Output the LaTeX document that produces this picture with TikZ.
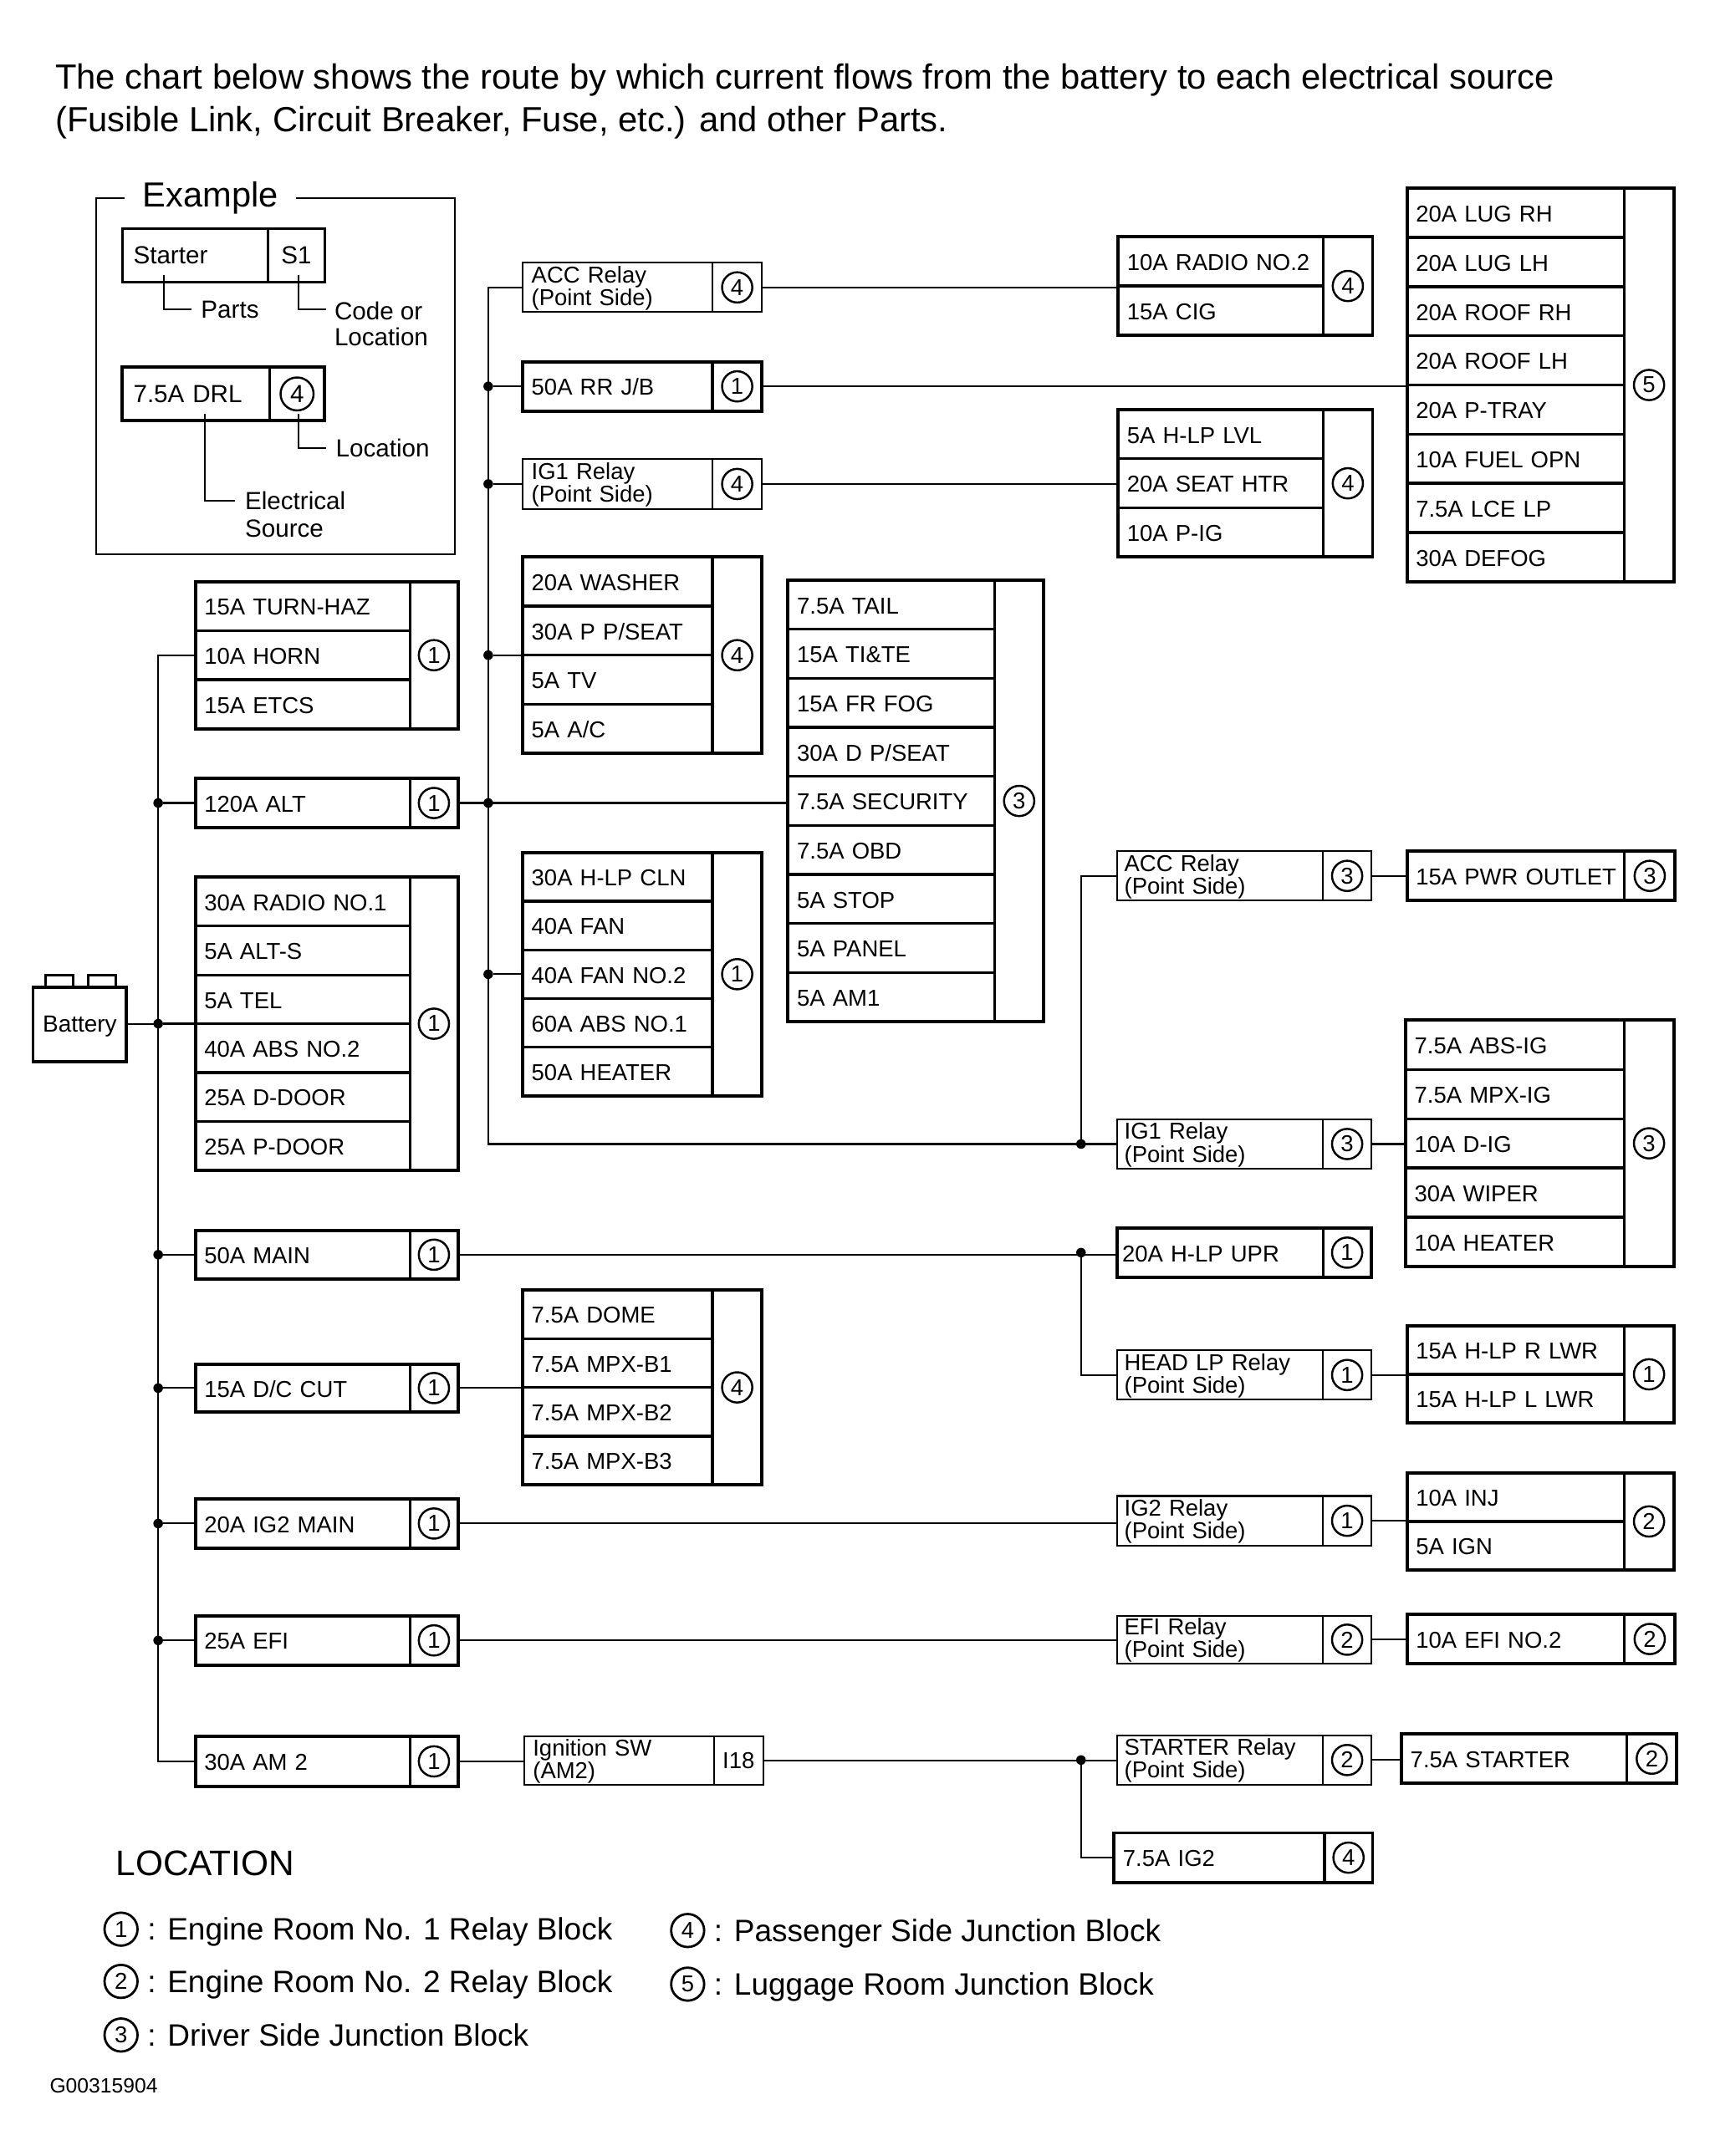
\documentclass[tikz,border=0pt]{standalone}
\usepackage{fontspec}
\setmainfont{Liberation Sans}
\newcommand{\cellfont}{\fontsize{16.7}{16.5}\selectfont}
\newcommand{\examplefont}{\fontsize{18}{15.5}\selectfont}
\newcommand{\legendfont}{\fontsize{22.5}{26}\selectfont}
\tikzset{
	wire/.style={line width=1.3pt},
	outline/.style={draw, rectangle, anchor=north west, outer sep=0pt, inner sep=0pt},
	rowcell/.style={draw, rectangle, anchor=north west, outer sep=0pt, inner ysep=0pt, inner xsep=6.5pt, align=left, font=\cellfont},
	loccell/.style={draw, rectangle, anchor=north west, outer sep=0pt, inner sep=0pt},
	locmark/.style={draw, circle, line width=1.5pt, minimum size=22pt, inner sep=0pt, font=\cellfont},
	legendmark/.style={draw, circle, line width=1.7pt, minimum size=24pt, inner sep=0pt, font=\cellfont},
	jdot/.style={fill, circle, minimum size=7pt, inner sep=0pt, outer sep=0pt},
	note/.style={anchor=west, inner xsep=7pt, inner ysep=0pt, align=left, font=\examplefont},
	thinblock/.style={line width=1.3pt},
	thickblock/.style={line width=2pt, outline/.append style={line width=2.4pt}},
	partblock/.style={line width=1.3pt, locmark/.style={inner sep=0pt, font=\cellfont}},
	exampleblock/.style={rowcell/.append style={font=\examplefont}, locmark/.append style={font=\examplefont, minimum size=24pt}},
}
% name, style, left, top, divider, right, bottom, mark, rows
\newcommand{\fuseblock}[9]{%
	\begin{scope}[#2]
	\pgfmathsetmacro{\bw}{#5-#3}
	\pgfmathsetmacro{\lw}{#6-#5}
	\pgfmathsetmacro{\bh}{#7-#4}
	\foreach \celltxt [count=\rowno] in {#9} {\xdef\nrows{\rowno}}
	\pgfmathsetmacro{\rowh}{\bh/\nrows}
	\foreach \celltxt [count=\rowno] in {#9}
	{
		\pgfmathsetmacro{\rowy}{#4+(\rowno-1)*\rowh}
		\node[rowcell, text width=\bw pt-13pt, minimum height=\rowh pt] (#1-\rowno) at (#3,\rowy) {\rule{0pt}{13.2pt}\celltxt};
	};
	\node[loccell, minimum width=\lw pt, minimum height=\bh pt] (#1-loc) at (#5,#4) {};
	\node[locmark] (#1-mark) at (#1-loc.center) {#8};
	\node[outline, minimum width=\bw pt+\lw pt, minimum height=\bh pt] (#1) at (#3,#4) {};
	\end{scope}
}
\begin{document}
\begin{tikzpicture}[x=1pt,y=-1pt]
	\useasboundingbox (0,0) rectangle (1243,1568);

	\node[anchor=north west, inner sep=0pt, align=left, font=\fontsize{25.4}{31}\selectfont] (title) at (40,46)
		{The chart below shows the route by which current flows from the battery to each electrical source\\
		(Fusible Link, Circuit Breaker, Fuse, etc.) and other Parts.};

	% example
	\node[inner xsep=13pt, inner ysep=0pt, font=\fontsize{25.3}{26}\selectfont] (extitle) at (153,144) {Example};
	\draw[wire] (extitle.west) -- (70,144) -- (70,403) -- (331,403) -- (331,144) -- (extitle.east);
	\fuseblock{starter}{partblock, exampleblock, line width=1.8pt}{89}{166}{195}{236}{205}{S1}{\hspace*{1.5pt}Starter}
	\fuseblock{drl}{thickblock, exampleblock}{89}{267}{196}{236}{306}{4}{\hspace*{1.5pt}7.5A DRL}
	\node[note] (lblparts) at (139,225) {Parts};
	\node[note, anchor=north west, inner xsep=6pt] (lblcode) at (237,219.5) {Code or\\[3pt]Location};
	\node[note] (lblloc) at (237,326) {Location};
	\node[note, anchor=north west] (lblsrc) at (171,357.5) {Electrical\\[4.5pt]Source};
	\coordinate (partstap) at (119,200);
	\coordinate (codetap) at (217,200);
	\coordinate (codeend) at (237,225);
	\coordinate (loctap) at (217,301);
	\coordinate (srctap) at (149,301);
	\coordinate (srcend) at (171,364);
	\draw[wire] (partstap) |- (lblparts.west);
	\draw[wire] (codetap) |- (codeend);
	\draw[wire] (loctap) |- (lblloc.west);
	\draw[wire] (srctap) |- (srcend);

	% battery
	\node[draw, rectangle, line width=2.4pt, minimum width=68pt, minimum height=54pt, inner sep=0pt, outer sep=0pt, text depth=0pt, font=\fontsize{17}{18}\selectfont] (bat) at (58,745) {Battery};
	\node[draw, rectangle, line width=1.7pt, minimum width=20pt, minimum height=9pt, anchor=south, outer sep=0pt] (postl) at (43,718) {};
	\node[draw, rectangle, line width=1.7pt, minimum width=20pt, minimum height=9pt, anchor=south, outer sep=0pt] (postr) at (74,718) {};

	% left column
	\fuseblock{turn}{thickblock}{142}{423}{298}{333}{530}{1}{15A TURN-HAZ,10A HORN,15A ETCS}
	\fuseblock{alt}{thickblock}{142}{566}{298}{333}{602}{1}{120A ALT}
	\fuseblock{radio}{thickblock}{142}{638}{298}{333}{851}{1}{30A RADIO NO.1,5A ALT-S,5A TEL,40A ABS NO.2,25A D-DOOR,25A P-DOOR}
	\fuseblock{main}{thickblock}{142}{895}{298}{333}{930}{1}{50A MAIN}
	\fuseblock{dccut}{thickblock}{142}{992}{298}{333}{1027}{1}{15A D/C CUT}
	\fuseblock{igmain}{thickblock}{142}{1090}{298}{333}{1126}{1}{20A IG2 MAIN}
	\fuseblock{efi}{thickblock}{142}{1175}{298}{333}{1211}{1}{25A EFI}
	\fuseblock{am}{thickblock}{142}{1263}{298}{333}{1299}{1}{30A AM 2}

	% middle column
	\fuseblock{accup}{thinblock}{380}{191}{518}{554}{227}{4}{ACC Relay\\(Point Side)}
	\fuseblock{rrjb}{thickblock}{380}{263}{518}{554}{299}{1}{50A RR J/B}
	\fuseblock{igup}{thinblock}{380}{334}{518}{554}{370}{4}{IG1 Relay\\(Point Side)}
	\fuseblock{washer}{thickblock}{380}{405}{518}{554}{548}{4}{20A WASHER,30A P P/SEAT,5A TV,5A A/C}
	\fuseblock{hlpcln}{thickblock}{380}{620}{518}{554}{797}{1}{30A H-LP CLN,40A FAN,40A FAN NO.2,60A ABS NO.1,50A HEATER}
	\fuseblock{dome}{thickblock}{380}{938}{518}{554}{1080}{4}{7.5A DOME,7.5A MPX-B1,7.5A MPX-B2,7.5A MPX-B3}
	\fuseblock{ignsw}{partblock}{381}{1263}{519}{555}{1298}{I18}{Ignition SW\\(AM2)}
	\fuseblock{tail}{thickblock}{573}{422}{723}{759}{743}{3}{7.5A TAIL,15A TI\&TE,15A FR FOG,30A D P/SEAT,7.5A SECURITY,7.5A OBD,5A STOP,5A PANEL,5A AM1}

	% right columns
	\fuseblock{radiotwo}{thickblock}{813}{172}{962}{998}{244}{4}{10A RADIO NO.2,15A CIG}
	\fuseblock{hlplvl}{thickblock}{813}{298}{962}{998}{405}{4}{5A H-LP LVL,20A SEAT HTR,10A P-IG}
	\fuseblock{lug}{thickblock}{1023}{137}{1181}{1217}{423}{5}{20A LUG RH,20A LUG LH,20A ROOF RH,20A ROOF LH,20A P-TRAY,10A FUEL OPN,7.5A LCE LP,30A DEFOG}
	\fuseblock{acclow}{thinblock}{812}{619}{962}{997}{655}{3}{\hspace*{-1pt}ACC Relay\\\hspace*{-1pt}(Point Side)}
	\fuseblock{outlet}{thickblock}{1023}{619}{1181}{1218}{655}{3}{\mbox{15A PWR OUTLET}}
	\fuseblock{iglow}{thinblock}{812}{814}{962}{997}{850}{3}{\hspace*{-1pt}IG1 Relay\\\hspace*{-1pt}(Point Side)}
	\fuseblock{absig}{thickblock}{1022}{742}{1181}{1217}{921}{3}{7.5A ABS-IG,7.5A MPX-IG,10A D-IG,30A WIPER,10A HEATER}
	\fuseblock{hlpupr}{thickblock}{812}{893}{962}{997}{929}{1}{\hspace*{-2.5pt}20A H-LP UPR}
	\fuseblock{headlp}{thinblock}{812}{982}{962}{997}{1018}{1}{\hspace*{-1pt}HEAD LP Relay\\\hspace*{-1pt}(Point Side)}
	\fuseblock{hlplwr}{thickblock}{1023}{964}{1181}{1217}{1035}{1}{15A H-LP R LWR,15A H-LP L LWR}
	\fuseblock{igtwo}{thinblock}{812}{1088}{962}{997}{1124}{1}{\hspace*{-1pt}IG2 Relay\\\hspace*{-1pt}(Point Side)}
	\fuseblock{inj}{thickblock}{1023}{1071}{1181}{1217}{1142}{2}{10A INJ,5A IGN}
	\fuseblock{efirelay}{thinblock}{812}{1175}{962}{997}{1210}{2}{\hspace*{-1pt}EFI Relay\\\hspace*{-1pt}(Point Side)}
	\fuseblock{efitwo}{thickblock}{1023}{1174}{1181}{1218}{1210}{2}{10A EFI NO.2}
	\fuseblock{strelay}{thinblock}{812}{1262}{962}{997}{1298}{2}{\hspace*{-1pt}STARTER Relay\\\hspace*{-1pt}(Point Side)}
	\fuseblock{stfuse}{thickblock}{1019}{1261}{1183}{1219}{1297}{2}{7.5A STARTER}
	\fuseblock{igfuse}{thickblock}{810}{1333}{963}{998}{1369}{4}{7.5A IG2}

	% left bus
	\coordinate (bus) at (115,0);
	\coordinate (amcorner) at (115,1281);
	\draw[wire] (turn.west) -| (amcorner) -- (am.west);
	\foreach \b in {alt,radio,main,dccut,igmain,efi}
	{
		\node[jdot] (j-\b) at (\b.west -| bus) {};
		\draw[wire] (j-\b) -- (\b.west);
	};
	\draw[wire] (bat.east) -- (bat.east -| j-radio);

	% middle bus
	\coordinate (midbus) at (355,0);
	\coordinate (midcorner) at (355,832);
	\draw[wire] (accup.west) -| (midcorner) -- (iglow.west);
	\foreach \b in {rrjb,igup,washer,hlpcln}
	{
		\node[jdot] (j-\b) at (\b.west -| midbus) {};
		\draw[wire] (j-\b) -- (\b.west);
	};
	\node[jdot] (j-tail) at (alt.east -| midbus) {};
	\draw[wire] (alt.east) -- (alt.east -| tail.west);

	% right bus
	\coordinate (rbus) at (786,0);
	\node[jdot] (j-iglow) at (iglow.west -| rbus) {};
	\node[jdot] (j-hlpupr) at (hlpupr.west -| rbus) {};
	\node[jdot] (j-strelay) at (strelay.west -| rbus) {};
	\draw[wire] (acclow.west) -| (j-iglow);
	\draw[wire] (j-hlpupr) |- (headlp.west);
	\draw[wire] (j-strelay) |- (igfuse.west);

	% straight runs
	\foreach \a / \b in {
	accup/radiotwo,
	rrjb/lug,
	igup/hlplvl,
	acclow/outlet,
	iglow/absig,
	main/hlpupr,
	headlp/hlplwr,
	dccut/dome,
	igmain/igtwo,
	igtwo/inj,
	efi/efirelay,
	efirelay/efitwo,
	am/ignsw,
	ignsw/strelay,
	strelay/stfuse}
	{
		\draw[wire] (\a.east) -- (\a.east -| \b.west);
	};

	% location list
	\node[anchor=west, inner sep=0pt, font=\fontsize{25.8}{27}\selectfont] (loctitle) at (84,1355) {LOCATION};
	\foreach \x / \y / \d / \s in {
	88/1403/1/Engine Room No. 1 Relay Block,
	88/1441/2/Engine Room No. 2 Relay Block,
	88/1480/3/Driver Side Junction Block,
	500/1404/4/Passenger Side Junction Block,
	500/1443/5/Luggage Room Junction Block}
	{
		\node[legendmark] (mark\d) at (\x,\y) {\d};
		\node[anchor=base west, inner sep=0pt, font=\legendfont] (text\d) at (\x+19,\y+8) {: \s};
	};
	\node[anchor=west, inner sep=0pt, font=\fontsize{15}{16}\selectfont] (figcode) at (36,1517) {G00315904};
\end{tikzpicture}
\end{document}
